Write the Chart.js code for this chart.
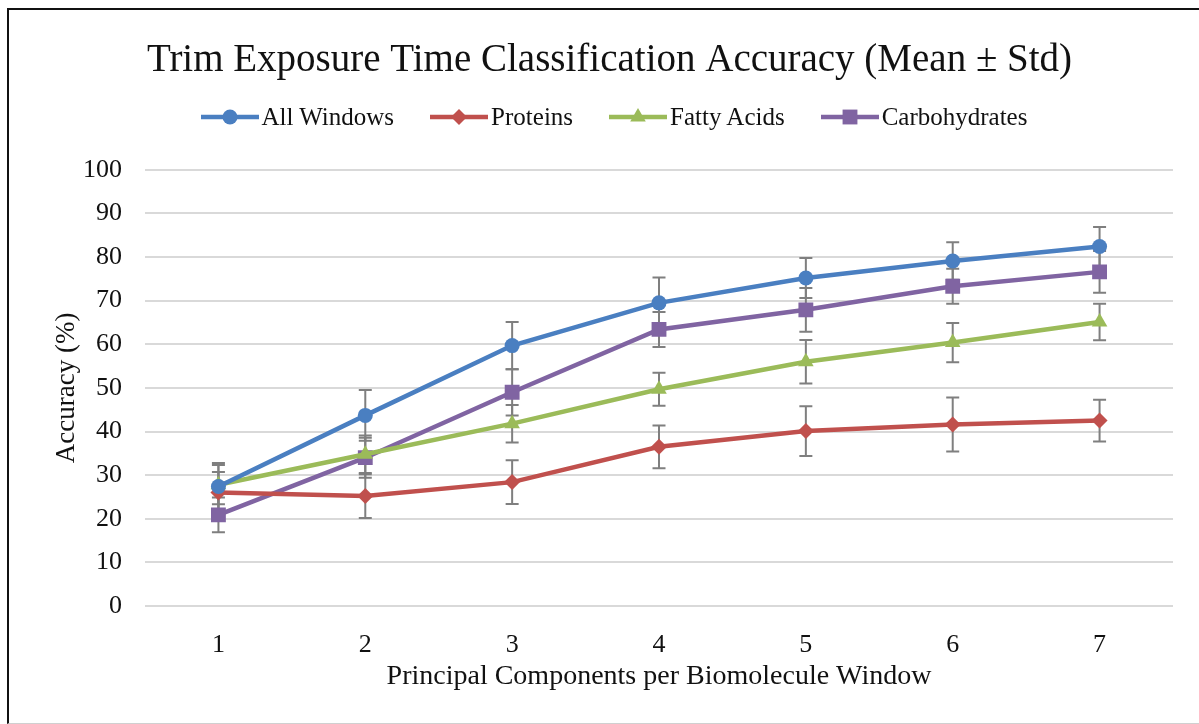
<!DOCTYPE html>
<html>
<head>
<meta charset="utf-8">
<script src="https://cdn.jsdelivr.net/npm/chart.js@4.4.1/dist/chart.umd.min.js"></script>
<style>
  html, body { margin: 0; padding: 0; background: #fff; overflow: hidden; }
  #wrap { position: relative; width: 1199px; height: 724px; overflow: hidden; }
  #frame { position: absolute; left: 7px; top: 8px; width: 1300px; height: 713px; border-left: 2px solid #111; border-top: 2px solid #111; border-bottom: 1px solid #d0d0d0; }
  #chart { position: absolute; left: 0; top: 0; }
  #legend { position: absolute; left: 0; top: 102px; width: 1199px; height: 30px; box-sizing: border-box; padding-left: 29px;
            display: flex; justify-content: center; align-items: center; gap: 36px;
            font-family: "Liberation Serif", serif; font-size: 25px; color: #111; }
  .item { display: flex; align-items: center; gap: 3px; }
</style>
</head>
<body>
<div id="wrap">
  <div id="frame"></div>
  <canvas id="chart" width="1199" height="724"></canvas>
  <div id="legend"></div>
</div>
<script>
const labels = ['1', '2', '3', '4', '5', '6', '7']

const allWindows = [27.4, 43.7, 59.7, 69.5, 75.2, 79.1, 82.4]
const allWindowsStd = [5.4, 5.8, 5.4, 5.8, 4.6, 4.3, 4.5]
const proteins = [26.0, 25.2, 28.4, 36.5, 40.1, 41.6, 42.5]
const proteinsStd = [4.7, 5.0, 5.0, 4.9, 5.7, 6.2, 4.8]
const fattyAcids = [27.8, 34.8, 41.8, 49.7, 56.0, 60.4, 65.1]
const fattyAcidsStd = [4.5, 4.3, 4.3, 3.8, 5.0, 4.5, 4.2]
const carbs = [20.9, 34.0, 49.0, 63.4, 67.9, 73.3, 76.6]
const carbsStd = [4.0, 4.6, 5.3, 4.0, 5.0, 4.0, 4.8]

const FONT = '"Liberation Serif", "Times New Roman", serif'

const series = [
  { label: 'All Windows', data: allWindows, std: allWindowsStd, color: '#4A7FC1', style: 'circle', r: 7.5 },
  { label: 'Proteins', data: proteins, std: proteinsStd, color: '#C0504D', style: 'rectRot', r: 8 },
  { label: 'Fatty Acids', data: fattyAcids, std: fattyAcidsStd, color: '#9BBB59', style: 'triangle', r: 9 },
  { label: 'Carbohydrates', data: carbs, std: carbsStd, color: '#8064A2', style: 'rect', r: 10.5 }
]

// error bars go under the lines and markers
const errorBars = {
  id: 'errorBars',
  beforeDatasetsDraw(chart) {
    const { ctx, scales: { x, y } } = chart
    ctx.save()
    ctx.strokeStyle = '#7f7f7f'
    ctx.lineWidth = 2
    chart.data.datasets.forEach(ds => {
      ds.std.forEach((s, j) => {
        const px = x.getPixelForValue(j)
        const top = y.getPixelForValue(ds.data[j] + s)
        const bot = y.getPixelForValue(ds.data[j] - s)
        ctx.beginPath()
        ctx.moveTo(px, top); ctx.lineTo(px, bot)
        ctx.moveTo(px - 6.5, top); ctx.lineTo(px + 6.5, top)
        ctx.moveTo(px - 6.5, bot); ctx.lineTo(px + 6.5, bot)
        ctx.stroke()
      })
    })
    ctx.restore()
  }
}

const chart = new Chart(document.getElementById('chart'), {
  type: 'line',
  data: {
    labels,
    datasets: series.map(s => ({
      label: s.label,
      data: s.data,
      std: s.std,
      borderColor: s.color,
      backgroundColor: s.color,
      borderWidth: 4.5,
      pointStyle: s.style,
      pointRadius: s.r,
      pointBorderWidth: 0,
      pointBackgroundColor: s.color,
      tension: 0
    }))
  },
  options: {
    responsive: false,
    animation: false,
    layout: { padding: { left: 46, right: 26, top: 0, bottom: 28 } },
    plugins: {
      legend: { display: false },
      tooltip: { enabled: false },
      title: {
        display: true,
        text: 'Trim Exposure Time Classification Accuracy (Mean ± Std)',
        color: '#111',
        font: { family: FONT, size: 39, weight: 'normal' },
        padding: { top: 37, bottom: 86 }
      }
    },
    scales: {
      x: {
        offset: true,
        grid: { display: false },
        border: { display: false },
        ticks: { color: '#111', padding: 16, font: { family: FONT, size: 26 } },
        title: {
          display: true,
          text: 'Principal Components per Biomolecule Window',
          color: '#111',
          font: { family: FONT, size: 28 },
          padding: { top: 0, bottom: 3 }
        },
        afterFit: (axis) => { axis.height = 90 }
      },
      y: {
        min: 0,
        max: 100,
        ticks: { stepSize: 10, color: '#111', padding: 23, font: { family: FONT, size: 26 } },
        grid: { color: '#d9d9d9', lineWidth: 2, drawTicks: false },
        border: { display: false },
        title: {
          display: true,
          text: 'Accuracy (%)',
          color: '#111',
          font: { family: FONT, size: 27 },
          padding: { top: 5, bottom: 0 }
        },
        afterFit: (axis) => { axis.width = 99 }
      }
    }
  },
  plugins: [errorBars]
})

// legend: line sample with marker, then the name
const drawMarker = (ctx, style, cx, cy, r) => {
  ctx.beginPath()
  if (style === 'circle') {
    ctx.arc(cx, cy, r, 0, Math.PI * 2)
  } else if (style === 'rectRot') {
    ctx.moveTo(cx, cy - r); ctx.lineTo(cx + r, cy); ctx.lineTo(cx, cy + r); ctx.lineTo(cx - r, cy)
  } else if (style === 'triangle') {
    ctx.moveTo(cx, cy - r); ctx.lineTo(cx + r * 0.866, cy + r / 2); ctx.lineTo(cx - r * 0.866, cy + r / 2)
  } else {
    const h = r * Math.SQRT1_2
    ctx.rect(cx - h, cy - h, h * 2, h * 2)
  }
  ctx.closePath()
  ctx.fill()
}

const legend = document.getElementById('legend')
series.forEach(s => {
  const item = document.createElement('div')
  item.className = 'item'
  const c = document.createElement('canvas')
  c.width = 58; c.height = 22
  const ctx = c.getContext('2d')
  ctx.strokeStyle = s.color
  ctx.fillStyle = s.color
  ctx.lineWidth = 4.5
  ctx.beginPath(); ctx.moveTo(0, 11); ctx.lineTo(58, 11); ctx.stroke()
  drawMarker(ctx, s.style, 29, 11, s.r)
  const txt = document.createElement('span')
  txt.textContent = s.label
  item.appendChild(c)
  item.appendChild(txt)
  legend.appendChild(item)
})
</script>
</body>
</html>
